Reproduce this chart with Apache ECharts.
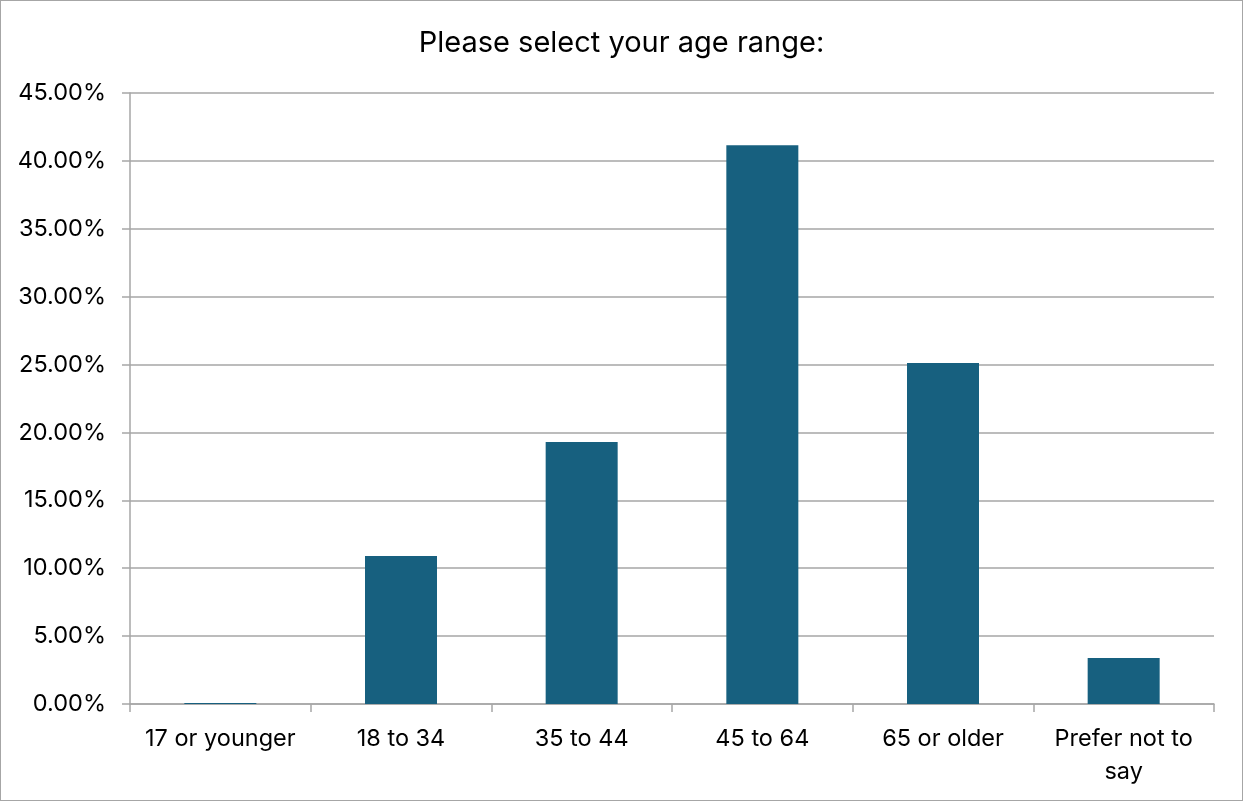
<!DOCTYPE html>
<html><head><meta charset="utf-8">
<script src="https://cdn.jsdelivr.net/npm/echarts@6/dist/echarts.min.js"></script>
<style>html,body{margin:0;padding:0;background:#fff}#c{width:1243px;height:801px;box-sizing:border-box;border:1.5px solid #a6a6a6}</style>
</head><body><div id="c"></div>
<script>
const categories = ["17 or younger", "18 to 34", "35 to 44", "45 to 64", "65 or older", "Prefer not to\nsay"];
const values = [0.08, 10.90, 19.29, 41.16, 25.11, 3.39];
const yTicks = [0, 5, 10, 15, 20, 25, 30, 35, 40, 45];
const titleText = "Please select your age range:";

const chart = echarts.init(document.getElementById('c'));
chart.setOption({
  animation: false,
  backgroundColor: '#fff',
  title: { text: titleText, left: 'center', top: 23,
    textStyle: { fontFamily: 'Inter, "Noto Sans", sans-serif', fontSize: 29, fontWeight: 'normal', color: '#000' } },
  grid: { left: 129, right: 28, top: 92, bottom: 96, containLabel: false },
  xAxis: {
    type: 'category', data: categories,
    axisLine: { lineStyle: { color: '#a6a6a6', width: 1.5 } },
    axisTick: { show: true, length: 8, lineStyle: { color: '#a6a6a6', width: 1.5 } },
    axisLabel: { color: '#000', fontSize: 23.5, fontFamily: 'Inter, "Noto Sans", sans-serif', margin: 18, lineHeight: 33, interval: 0 }
  },
  yAxis: {
    type: 'value', min: yTicks[0], max: yTicks[yTicks.length-1], interval: 5,
    axisLine: { show: true, lineStyle: { color: '#a6a6a6', width: 1.5 } },
    axisTick: { show: true, length: 8, lineStyle: { color: '#a6a6a6', width: 1.5 } },
    splitLine: { lineStyle: { color: '#a6a6a6', width: 1.5 } },
    axisLabel: { color: '#000', fontSize: 23.5, fontFamily: 'Inter, "Noto Sans", sans-serif', margin: 24,
      formatter: v => v.toFixed(2) + '%' }
  },
  series: [{
    type: 'bar', data: values, barWidth: 72,
    itemStyle: { color: '#17607F' }
  }]
});
</script></body></html>
